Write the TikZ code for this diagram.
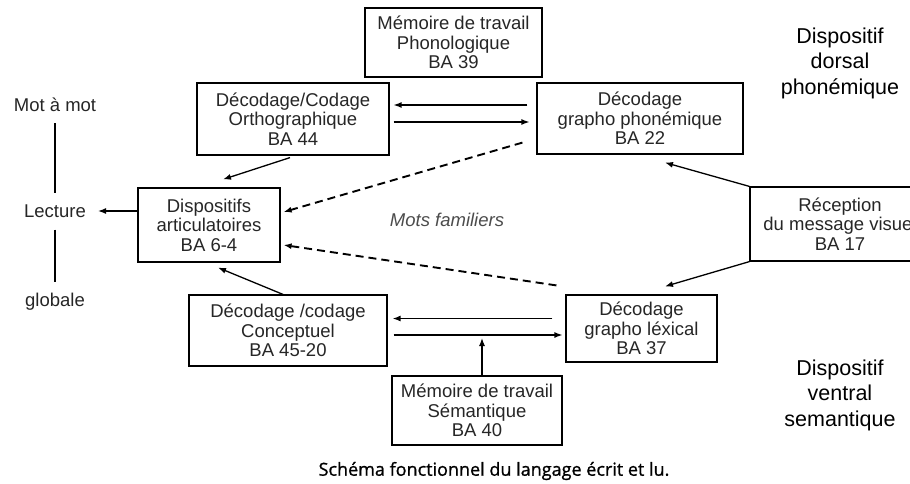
\documentclass[tikz,border=0pt]{standalone}
\usepackage{fontspec}
\setmainfont{Liberation Sans}
\newfontfamily\legendefont[FakeBold=1]{Open Sans}
\usetikzlibrary{arrows.meta}
\begin{document}
\begin{tikzpicture}[x=1pt,y=-1pt,
	boite/.style={rectangle,draw,line width=1.2pt,align=center,inner sep=0pt,font=\fontsize{18.5}{19.5}\selectfont,text=black!85},
	libre/.style={inner sep=0pt,align=center,font=\fontsize{18.5}{19.5}\selectfont,text=black!85},
	dispositif/.style={inner sep=0pt,align=center,font=\fontsize{21.5}{25.5}\selectfont},
	fleche/.style={->,line width=1.3pt},
	pointille/.style={->,line width=1.9pt,dash pattern=on 8pt off 5pt},
	>={Latex[length=8pt,width=6pt]}
	]
	\useasboundingbox (0,0) rectangle (910,483);
	\path
	(453.5,42.5) node[boite,minimum width=177,minimum height=69] (ba39) {Mémoire de travail\\Phonologique\\BA 39}
	(293,119)    node[boite,minimum width=192,minimum height=72] (ba44) {Décodage/Codage\\Orthographique\\BA 44}
	(640,118.5)  node[boite,minimum width=206,minimum height=71] (ba22) {Décodage\\grapho phonémique\\BA 22}
	(209,225)    node[boite,minimum width=142,minimum height=74] (ba64) {Dispositifs\\articulatoires\\BA 6-4}
	(840,224)    node[boite,minimum width=180,minimum height=74] (ba17) {Réception\\du message visuel\\BA 17}
	(288,330.5)  node[boite,minimum width=198,minimum height=71] (ba4520) {Décodage /codage\\Conceptuel\\BA 45-20}
	(641.5,328.5) node[boite,minimum width=151,minimum height=67] (ba37) {Décodage\\grapho léxical\\BA 37}
	(477,410.5)  node[boite,minimum width=170,minimum height=69] (ba40) {Mémoire de travail\\Sémantique\\BA 40}
	;
	\path
	(55,105)  node[libre] (motamot) {Mot à mot}
	(55,211)  node[libre] (lecture) {Lecture}
	(55,302)  node[libre] (globale) {globale}
	(447,220) node[libre,font=\fontsize{18.5}{19.5}\selectfont\itshape,text=black!70] (mots) {Mots familiers}
	(840,63)  node[dispositif] (dorsal) {Dispositif\\dorsal\\phonémique}
	(840,395) node[dispositif] (ventral) {Dispositif\\ventral\\semantique}
	(494,471) node[inner sep=0pt,font=\legendefont\fontsize{18}{20}\selectfont] (legende) {Schéma fonctionnel du langage écrit et lu.}
	;
	\coordinate (jonction) at (482,338);
	% lecture
	\draw[line width=1.2pt,shorten <=11pt,shorten >=11pt] (motamot) -- (lecture);
	\draw[line width=1.2pt,shorten <=12pt,shorten >=11pt] (lecture) -- (globale);
	\draw[fleche,shorten >=12pt] (ba64.west |- lecture) -- (lecture);
	% vers les dispositifs articulatoires
	\draw[fleche] ([xshift=-3pt,yshift=-2pt]ba44.south) -- ([xshift=14pt,yshift=8pt]ba64.north);
	\draw[fleche] ([xshift=-5pt]ba4520.north) -- ([xshift=9pt,yshift=-5pt]ba64.south);
	\draw[pointille] ([xshift=-14pt,yshift=12pt]ba22.south west) -- ([xshift=3pt,yshift=13pt]ba64.east);
	\draw[pointille] ([xshift=-9pt,yshift=9pt]ba37.north west) -- ([xshift=3pt,yshift=-20pt]ba64.east);
	% voie dorsale
	\draw[fleche,shorten <=9pt,shorten >=4pt] ([yshift=13.5pt]ba22.west) -- ([yshift=13.5pt]ba22.west -| ba44.east);
	\draw[fleche,shorten <=4pt,shorten >=7pt] ([yshift=-3pt]ba44.east) -- ([yshift=-3pt]ba44.east -| ba22.west);
	\draw[fleche] (ba17.north west) -- ([xshift=25pt,yshift=-8pt]ba22.south);
	% voie ventrale
	\draw[fleche] (ba17.south west) -- ([xshift=23.5pt,yshift=8pt]ba37.north);
	\draw[fleche,shorten <=13pt,shorten >=5pt] ([yshift=10pt]ba37.west) -- ([yshift=10pt]ba37.west -| ba4520.east);
	\draw[fleche,shorten <=6pt,shorten >=3pt] ([yshift=-4.5pt]ba4520.east) -- ([yshift=-4.5pt]ba4520.east -| ba37.west);
	\draw[fleche] ([xshift=5pt]ba40.north) -- (jonction);
\end{tikzpicture}
\end{document}
